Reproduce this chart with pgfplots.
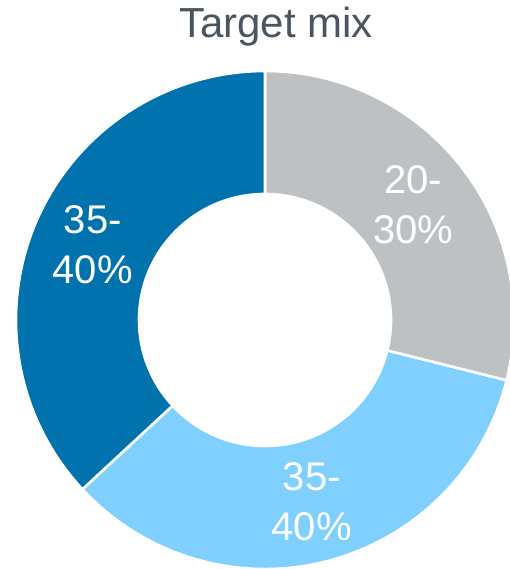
\documentclass[border=0pt]{standalone}
\usepackage{pgfplots}
\usepackage{pgfplotstable}
\pgfplotsset{compat=1.18}
\usepackage{fontspec}
\setmainfont{Liberation Sans}
\definecolor{segGray}{RGB}{190,193,196}
\definecolor{segLight}{RGB}{127,208,255}
\definecolor{segDark}{RGB}{0,115,175}
\definecolor{titleGray}{RGB}{74,85,98}

% share of each segment (percent) and the share that comes before it (clockwise from the top)
\pgfplotstableread{
x   y   share before
265 249 28.9  0
265 249 34.2  28.9
265 249 36.9  63.1
}\donutdata

\pgfplotsset{
  donut/.style 2 args={
    only marks, scatter, mark=*, mark size=0pt,
    mark options={draw=none,fill=none},
    visualization depends on={\thisrow{share} \as \segshare},
    visualization depends on={\thisrow{before} \as \segbefore},
    scatter/@pre marker code/.code={%
      \pgfmathsetmacro\sa{90-3.6*\segbefore}%
      \pgfmathsetmacro\ea{90-3.6*(\segbefore+\segshare)}%
      \pgfmathsetmacro\ma{(\sa+\ea)/2}%
      \fill[#1, draw=white, line width=2.6pt]
        (\sa:249pt) arc[start angle=\sa, end angle=\ea, radius=249pt]
        -- (\ea:126pt) arc[start angle=\ea, end angle=\sa, radius=126pt] -- cycle;
      \node[text=white, align=center, inner sep=0pt,
            font=\fontsize{40}{50}\selectfont] at (\ma:188pt) {#2};
    },
    scatter/@post marker code/.code={},
  }
}

\begin{document}
\begin{tikzpicture}
\begin{axis}[
  hide axis, scale only axis,
  width=510pt, height=569pt,
  xmin=0, xmax=510, ymin=0, ymax=569,
  clip=false,
  title={Target mix},
  title style={at={(axis description cs:0.541,0.924)}, anchor=base,
    text=titleGray, inner sep=0pt, font=\fontsize{42}{50}\selectfont},
]
\addplot[donut={segGray}{20-\\30\%}, skip coords between index={1}{3}] table[x=x,y=y] {\donutdata};
\addplot[donut={segLight}{35-\\40\%}, skip coords between index={0}{1}, skip coords between index={2}{3}] table[x=x,y=y] {\donutdata};
\addplot[donut={segDark}{35-\\40\%}, skip coords between index={0}{2}] table[x=x,y=y] {\donutdata};
\end{axis}
\pgfresetboundingbox
\useasboundingbox (current axis.south west) rectangle (current axis.north east);
\end{tikzpicture}
\end{document}
